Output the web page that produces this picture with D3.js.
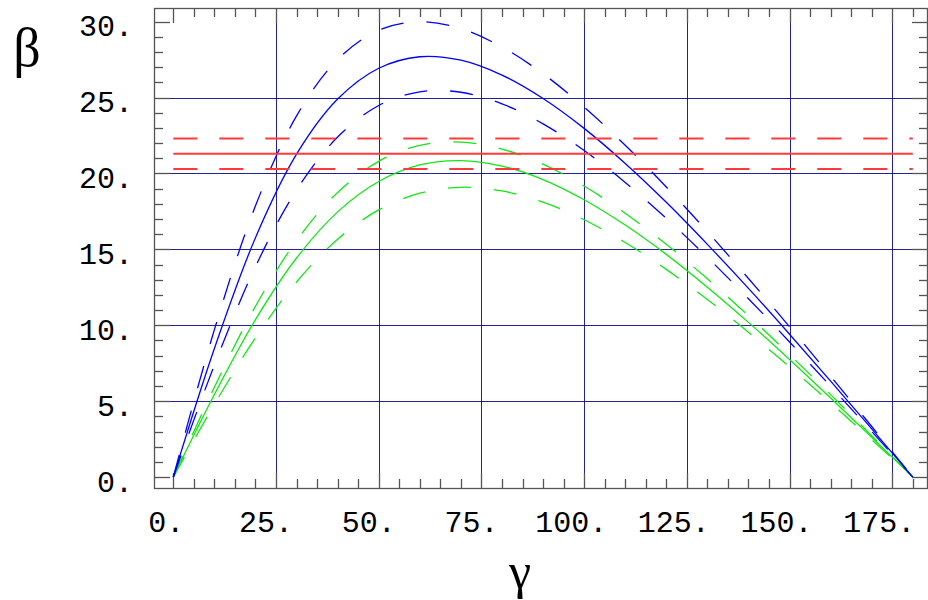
<!DOCTYPE html>
<meta charset="utf-8">
<style>
  body { margin: 0; background: #fff; }
  .frame { fill: none; stroke: #555; stroke-width: 1.3px; }
  .tick { stroke: #555; stroke-width: 1.3px; }
  .grid { stroke: #0b0b85; stroke-width: 1px; opacity: 0.9; }
  .lbl { font-family: "Liberation Mono", "Courier New", monospace; font-size: 30px; fill: #000; }
  .title { font-family: "Liberation Serif", "Times New Roman", serif; fill: #000; }
  .curve { fill: none; }
</style>
<body>
<script src="https://cdn.jsdelivr.net/npm/d3@7"></script>
<script>
  // gamma sample points (degrees)
  var gamma = [0, 10, 20, 30, 40, 50, 60, 70, 80, 90, 100, 110, 120, 130, 140, 150, 160, 170, 180];

  // beta for each curve
  var blueMid = [0, 8.47, 15.77, 21.27, 24.90, 26.93, 27.69, 27.46, 26.48, 24.94, 22.97, 20.66, 18.10, 15.33, 12.43, 9.41, 6.32, 3.17, 0];
  var blueHi  = [0, 9.71, 17.87, 23.79, 27.51, 29.44, 30.00, 29.54, 28.33, 26.57, 24.37, 21.86, 19.11, 16.17, 13.08, 9.90, 6.64, 3.33, 0];
  var blueLo  = [0, 7.38, 13.86, 18.91, 22.40, 24.48, 25.38, 25.35, 24.59, 23.27, 21.51, 19.41, 17.04, 14.47, 11.75, 8.90, 5.98, 3.00, 0];
  var greenMid = [0, 5.44, 10.37, 14.43, 17.47, 19.47, 20.56, 20.85, 20.49, 19.60, 18.27, 16.60, 14.67, 12.51, 10.19, 7.75, 5.21, 2.62, 0];
  var greenHi  = [0, 5.92, 11.25, 15.58, 18.75, 20.80, 21.85, 22.07, 21.61, 20.61, 19.17, 17.38, 15.33, 13.06, 10.63, 8.07, 5.43, 2.73, 0];
  var greenLo  = [0, 4.79, 9.17, 12.85, 15.67, 17.60, 18.70, 19.09, 18.85, 18.11, 16.95, 15.45, 13.68, 11.70, 9.54, 7.26, 4.89, 2.46, 0];

  // horizontal band (red)
  var redBand = { mid: 21.3, lo: 20.3, hi: 22.3 };
  var redSpan = [0, 180];

  // ticks
  var xMajor = [0, 25, 50, 75, 100, 125, 150, 175];
  var xTickLabels = ["0.", "25.", "50.", "75.", "100.", "125.", "150.", "175."];
  var yMajor = [0, 5, 10, 15, 20, 25, 30];
  var yTickLabels = ["0.", "5.", "10.", "15.", "20.", "25.", "30."];
  var xGrid = [25, 50, 75, 100, 125, 150, 175];
  var yGrid = [5, 10, 15, 20, 25];

  var W = 928, H = 600;
  var frame = { left: 154, right: 928, top: 8, bottom: 488 };

  var x = d3.scaleLinear().domain([-4.7, 183.7]).range([frame.left, frame.right]);
  var y = d3.scaleLinear().domain([-0.72, 30.9]).range([frame.bottom, frame.top]);

  var svg = d3.select("body").append("svg")
    .attr("width", W)
    .attr("height", H);

  // grid lines
  svg.selectAll(".gx").data(xGrid).enter().append("line")
    .attr("class", "grid")
    .attr("x1", function(d) { return Math.round(x(d)) + 0.5; })
    .attr("x2", function(d) { return Math.round(x(d)) + 0.5; })
    .attr("y1", frame.top).attr("y2", frame.bottom);
  svg.selectAll(".gy").data(yGrid).enter().append("line")
    .attr("class", "grid")
    .attr("y1", function(d) { return Math.round(y(d)) + 0.5; })
    .attr("y2", function(d) { return Math.round(y(d)) + 0.5; })
    .attr("x1", frame.left).attr("x2", frame.right);

  // minor tick values
  var xMinor = d3.range(0, 181, 5).filter(function(v) { return v % 25 !== 0; });
  var yMinor = d3.range(0, 31, 1).filter(function(v) { return v % 5 !== 0; });

  var tickG = svg.append("g");
  function vTicks(vals, len) {
    vals.forEach(function(v) {
      var px = Math.round(x(v)) + 0.5;
      tickG.append("line").attr("class", "tick")
        .attr("x1", px).attr("x2", px).attr("y1", frame.bottom).attr("y2", frame.bottom - len);
      tickG.append("line").attr("class", "tick")
        .attr("x1", px).attr("x2", px).attr("y1", frame.top).attr("y2", frame.top + len);
    });
  }
  function hTicks(vals, len) {
    vals.forEach(function(v) {
      var py = Math.round(y(v)) + 0.5;
      tickG.append("line").attr("class", "tick")
        .attr("y1", py).attr("y2", py).attr("x1", frame.left).attr("x2", frame.left + len);
      tickG.append("line").attr("class", "tick")
        .attr("y1", py).attr("y2", py).attr("x1", frame.right).attr("x2", frame.right - len);
    });
  }
  vTicks(xMajor, 15);
  vTicks(xMinor, 9);
  hTicks(yMajor, 16);
  hTicks(yMinor, 9);

  // curves
  var line = d3.line()
    .x(function(d) { return x(d[0]); })
    .y(function(d) { return y(d[1]); })
    .curve(d3.curveCatmullRom.alpha(0.5));

  function series(vals) {
    return gamma.map(function(g, i) { return [g, vals[i]]; });
  }

  var curves = [
    { v: greenLo, c: "#14e614", dash: "23,23" },
    { v: greenHi, c: "#14e614", dash: "23,23" },
    { v: greenMid, c: "#14e614", dash: null },
    { v: blueLo, c: "#0000ff", dash: "23,23" },
    { v: blueHi, c: "#0000ff", dash: "23,23" },
    { v: blueMid, c: "#0000ff", dash: null }
  ];

  svg.selectAll(".c").data(curves).enter().append("path")
    .attr("class", "curve")
    .attr("d", function(d) { return line(series(d.v)); })
    .style("stroke", function(d) { return d.c; })
    .style("stroke-width", 1.3)
    .style("stroke-dasharray", function(d) { return d.dash; });

  // red band
  var reds = [
    { v: redBand.hi, dash: "24,22" },
    { v: redBand.mid, dash: null },
    { v: redBand.lo, dash: "24,22" }
  ];
  svg.selectAll(".r").data(reds).enter().append("line")
    .attr("x1", x(redSpan[0])).attr("x2", x(redSpan[1]))
    .attr("y1", function(d) { return y(d.v); })
    .attr("y2", function(d) { return y(d.v); })
    .style("stroke", "#ff3a3a")
    .style("stroke-width", 2)
    .style("stroke-dasharray", function(d) { return d.dash; });

  // frame
  svg.append("rect").attr("class", "frame")
    .attr("x", frame.left + 0.5).attr("y", frame.top + 0.5)
    .attr("width", frame.right - frame.left - 1)
    .attr("height", frame.bottom - frame.top);

  // tick labels
  svg.selectAll(".xl").data(xMajor).enter().append("text")
    .attr("class", "lbl")
    .attr("x", function(d, i) { return x(d) - (3 * xTickLabels[i].length + 1); })
    .attr("y", 532)
    .attr("text-anchor", "middle")
    .text(function(d, i) { return xTickLabels[i]; });

  svg.selectAll(".yl").data(yMajor).enter().append("text")
    .attr("class", "lbl")
    .attr("x", 133)
    .attr("y", function(d) { return y(d) + 14.5; })
    .attr("text-anchor", "end")
    .text(function(d, i) { return yTickLabels[i]; });

  // axis titles
  svg.append("text").attr("class", "title")
    .attr("x", 27).attr("y", 66)
    .attr("text-anchor", "middle")
    .style("font-size", "54px")
    .text("β");
  svg.append("text").attr("class", "title")
    .attr("x", 520).attr("y", 588)
    .attr("text-anchor", "middle")
    .style("font-size", "50px")
    .text("γ");
</script>
</body>
